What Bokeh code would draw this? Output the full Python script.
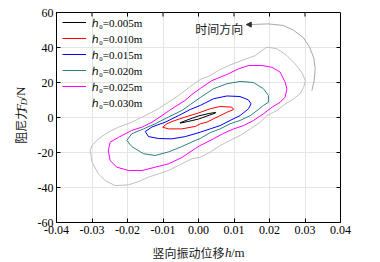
import math
from bokeh.plotting import figure
from bokeh.layouts import column, row
from bokeh.models import (Range1d, FixedTicker, LinearAxis, Legend, LegendItem,
                          Label, Arrow, NormalHead)
from bokeh.embed import file_html
from bokeh.resources import INLINE

# ---------------- data ----------------
x_ticks = [-0.04, -0.03, -0.02, -0.01, 0.0, 0.01, 0.02, 0.03, 0.04]
x_tick_labels = ["-0.04", "-0.03", "-0.02", "-0.01", "0.00", "0.01", "0.02", "0.03", "0.04"]
y_ticks = [-60, -40, -20, 0, 20, 40, 60]
y_tick_labels = ["-60", "-40", "-20", "0", "20", "40", "60"]
x_min, x_max = -0.04, 0.04
y_min, y_max = -60, 60

series_labels = ["ℎ₀=0.005m", "ℎ₀=0.010m", "ℎ₀=0.015m", "ℎ₀=0.020m", "ℎ₀=0.025m", "ℎ₀=0.030m"]
series_colors = ["#000000", "#ff0000", "#0000ff", "#2e7f7f", "#ff00ff", "#c0c0c0"]
legend_colors = ["#000000", "#ff0000", "#0000ff", "#2e7f7f", "#ff00ff", "#000000"]

h005_x = [-0.0052, -0.0030, 0.0000, 0.0030, 0.0048, 0.0048, 0.0030, 0.0000, -0.0030, -0.0052, -0.0052]
h005_f = [-3.0, -1.3, 0.9, 2.3, 2.9, 2.6, 1.3, -0.9, -2.3, -3.2, -3.0]

h010_x = [-0.0101, -0.0089, -0.0075, -0.0037, 0.0000, 0.0033, 0.0061, 0.0094, 0.0099, 0.0080,
          0.0052, 0.0024, 0.0005, -0.0009, -0.0047, -0.0085, -0.0101]
h010_f = [-5.5, -3.6, -2.3, 0.3, 2.6, 5.0, 6.3, 5.9, 4.6, 3.0,
          0.2, -2.6, -3.6, -5.1, -6.5, -6.5, -5.5]

h015_x = [-0.0150, -0.0131, -0.0094, -0.0056, -0.0023, 0.0005, 0.0042, 0.0080, 0.0117, 0.0141,
          0.0148, 0.0141, 0.0117, 0.0089, 0.0061, 0.0033, 0.0005, -0.0037, -0.0075, -0.0113,
          -0.0141, -0.0150]
h015_f = [-8.0, -5.4, -2.7, 1.1, 4.6, 6.9, 10.7, 12.3, 12.0, 10.0,
          7.8, 5.0, 1.1, -1.7, -4.6, -6.5, -8.4, -10.9, -12.2, -12.0,
          -10.9, -8.0]

h020_x = [-0.0202, -0.0188, -0.0155, -0.0122, -0.0085, -0.0047, -0.0023, 0.0005, 0.0042, 0.0080,
          0.0117, 0.0155, 0.0183, 0.0197, 0.0197, 0.0183, 0.0165, 0.0146, 0.0117, 0.0089,
          0.0061, 0.0033, 0.0005, -0.0009, -0.0047, -0.0085, -0.0122, -0.0155, -0.0188, -0.0202]
h020_f = [-13.1, -9.3, -6.5, -3.6, 0.2, 4.0, 7.4, 11.4, 16.4, 19.3,
          20.6, 20.0, 16.4, 12.6, 8.7, 6.9, 4.0, 1.1, -1.7, -3.6,
          -6.5, -8.6, -12.0, -13.1, -16.6, -19.7, -21.7, -20.7, -16.6, -13.1]

h025_x = [-0.0254, -0.0249, -0.0225, -0.0188, -0.0159, -0.0131, -0.0103, -0.0075, -0.0038, -0.0019,
          0.0005, 0.0038, 0.0080, 0.0113, 0.0141, 0.0179, 0.0207, 0.0230, 0.0244, 0.0249,
          0.0244, 0.0230, 0.0207, 0.0183, 0.0155, 0.0127, 0.0099, 0.0070, 0.0042, 0.0005,
          -0.0009, -0.0047, -0.0085, -0.0122, -0.0159, -0.0197, -0.0230, -0.0249, -0.0254]
h025_f = [-18.9, -14.1, -11.3, -7.4, -5.5, -2.7, 1.1, 5.0, 9.7, 13.1,
          16.6, 21.1, 24.6, 27.8, 29.7, 29.7, 28.7, 25.9, 20.2, 16.4,
          11.6, 8.7, 5.9, 2.1, -1.7, -4.6, -6.5, -9.1, -12.2, -16.0,
          -17.7, -22.9, -26.5, -28.4, -30.3, -30.3, -28.4, -24.6, -18.9]

h030_x = [-0.0305, -0.0300, -0.0282, -0.0254, -0.0225, -0.0188, -0.0150, -0.0113, -0.0085, -0.0056,
          -0.0023, 0.0005, 0.0033, 0.0056, 0.0085, 0.0122, 0.0160, 0.0179, 0.0193, 0.0221,
          0.0249, 0.0272, 0.0291, 0.0301, 0.0296, 0.0286, 0.0268, 0.0239, 0.0221, 0.0193,
          0.0174, 0.0146, 0.0117, 0.0089, 0.0061, 0.0033, 0.0005, -0.0019, -0.0056, -0.0085,
          -0.0113, -0.0141, -0.0169, -0.0197, -0.0235, -0.0263, -0.0282, -0.0300, -0.0305]
h030_f = [-18.9, -16.0, -12.2, -8.4, -5.5, -2.7, 1.1, 5.0, 8.7, 12.6,
          17.7, 21.7, 24.0, 26.9, 29.7, 32.6, 35.4, 38.3, 40.2, 39.3,
          35.4, 30.7, 25.7, 21.1, 17.1, 13.5, 10.7, 6.9, 4.0, 1.1,
          -2.7, -6.5, -10.3, -13.1, -16.0, -19.8, -22.7, -23.6, -27.4, -30.3,
          -32.2, -34.1, -36.6, -38.5, -38.9, -36.0, -32.2, -25.5, -18.9]

loops_x = [h005_x, h010_x, h015_x, h020_x, h025_x, h030_x]
loops_f = [h005_f, h010_f, h015_f, h020_f, h025_f, h030_f]

# "time direction" guide arc
arc_x = [0.01456, 0.01963, 0.02386, 0.02668, 0.02949, 0.03118, 0.03245, 0.03287, 0.03259, 0.03194]
arc_f = [53.1, 53.5, 52.6, 50.0, 45.7, 40.6, 34.3, 28.0, 21.1, 15.4]

annot_text = "时间方向"
x_label_parts = ["竖向振动位移", "h", "/m"]
y_label_parts = ["阻尼力", "F", "D", "/N"]

SERIF = "Liberation Serif"
CJK = "Noto Sans CJK SC"
TXT = "#1a1a1a"

# ---------------- main figure ----------------
p = figure(width=348, height=240, output_backend="svg", toolbar_location=None,
           x_range=Range1d(x_min, x_max), y_range=Range1d(y_min, y_max),
           x_axis_location=None, y_axis_location=None,
           min_border_left=24, min_border_right=40, min_border_top=12, min_border_bottom=18)
p.outline_line_color = "black"
p.outline_line_width = 1
p.background_fill_color = "white"
p.border_fill_color = "white"


def make_axis(ticks, labels):
    ax = LinearAxis(ticker=FixedTicker(ticks=ticks, minor_ticks=[]))
    ax.major_label_overrides = {t: l for t, l in zip(ticks, labels)}
    ax.major_tick_in = 4
    ax.major_tick_out = 0
    ax.minor_tick_in = 0
    ax.minor_tick_out = 0
    ax.axis_line_color = "black"
    ax.major_tick_line_color = "black"
    ax.major_label_text_font = SERIF
    ax.major_label_text_font_size = "12px"
    ax.major_label_text_color = "black"
    return ax


bx = make_axis(x_ticks, x_tick_labels)
bx.major_label_standoff = 3
lx = make_axis(y_ticks, y_tick_labels)
lx.major_label_standoff = 3
p.add_layout(bx, "below")
p.add_layout(lx, "left")

# inward ticks on the top and right frame edges (clipped half of a dash marker)
p.scatter(x=x_ticks[1:-1], y=[y_max] * (len(x_ticks) - 2), marker="dash", size=8,
          angle=math.pi / 2, line_color="black", line_width=1)
p.scatter(x=[x_max] * (len(y_ticks) - 2), y=y_ticks[1:-1], marker="dash", size=8,
          line_color="black", line_width=1)

renderers = []
for xs, fs, c in zip(loops_x, loops_f, series_colors):
    renderers.append(p.line(xs, fs, line_color=c, line_width=1))

# legend proxy for the last entry (its swatch is drawn black in the original)
proxy = p.line([], [], line_color=legend_colors[5], line_width=1)
leg_renderers = renderers[:5] + [proxy]

legend = Legend(items=[LegendItem(label=l, renderers=[r]) for l, r in zip(series_labels, leg_renderers)],
                location=(6, 112), padding=0, margin=0, spacing=0,
                glyph_width=24, glyph_height=16, label_height=16, label_standoff=6,
                label_text_font=SERIF, label_text_font_size="11px", label_text_color="black",
                border_line_color=None, background_fill_alpha=0)
p.add_layout(legend, "center")

# time-direction arc + arrow
p.line(arc_x, arc_f, line_color="#a8a8a8", line_width=1)
p.add_layout(Arrow(end=NormalHead(size=5, line_color="#333333", fill_color="#333333"),
                   x_start=arc_x[0], y_start=arc_f[0], x_end=arc_x[0] - 0.0011, y_end=arc_f[0],
                   line_color="#a8a8a8", line_width=1))
p.add_layout(Label(x=-0.0009, y=50.9, text=annot_text, text_font=CJK, text_font_size="12px",
                   text_baseline="middle", text_align="left", text_color=TXT))

# ---------------- y-axis title strip (left) ----------------
yf = figure(width=32, height=240, output_backend="svg", toolbar_location=None,
            x_range=Range1d(0, 32), y_range=Range1d(0, 240),
            x_axis_location=None, y_axis_location=None, min_border=0)
yf.outline_line_color = None
yf.grid.visible = False
ang = math.pi / 2
yf.add_layout(Label(x=19.5, y=90, text=y_label_parts[0], text_font=CJK, text_font_size="12px", angle=ang,
                    text_baseline="middle", text_align="left", text_color=TXT))
yf.add_layout(Label(x=20, y=126.5, text=y_label_parts[1], text_font=SERIF, text_font_style="italic",
                    text_font_size="13px", angle=ang, text_baseline="middle", text_align="left",
                    text_color=TXT))
yf.add_layout(Label(x=23.5, y=134, text=y_label_parts[2], text_font=SERIF, text_font_style="italic",
                    text_font_size="9px", angle=ang, text_baseline="middle", text_align="left",
                    text_color=TXT))
yf.add_layout(Label(x=20, y=140.5, text=y_label_parts[3], text_font=SERIF, text_font_size="13px",
                    angle=ang, text_baseline="middle", text_align="left", text_color=TXT))

# ---------------- x-axis title strip (bottom) ----------------
xf = figure(width=380, height=22, output_backend="svg", toolbar_location=None,
            x_range=Range1d(0, 380), y_range=Range1d(0, 22),
            x_axis_location=None, y_axis_location=None, min_border=0)
xf.outline_line_color = None
xf.grid.visible = False
xf.add_layout(Label(x=152, y=10, text=x_label_parts[0], text_font=CJK, text_font_size="12px",
                    text_baseline="middle", text_align="left", text_color=TXT))
xf.add_layout(Label(x=224.5, y=10, text=x_label_parts[1], text_font=SERIF, text_font_style="italic",
                    text_font_size="13px", text_baseline="middle", text_align="left", text_color=TXT))
xf.add_layout(Label(x=230.5, y=10, text=x_label_parts[2], text_font=SERIF,
                    text_font_size="13px", text_baseline="middle", text_align="left", text_color=TXT))

layout = column(row(yf, p, spacing=0), xf, spacing=0)
open("out.html", "w").write(file_html(layout, INLINE))
